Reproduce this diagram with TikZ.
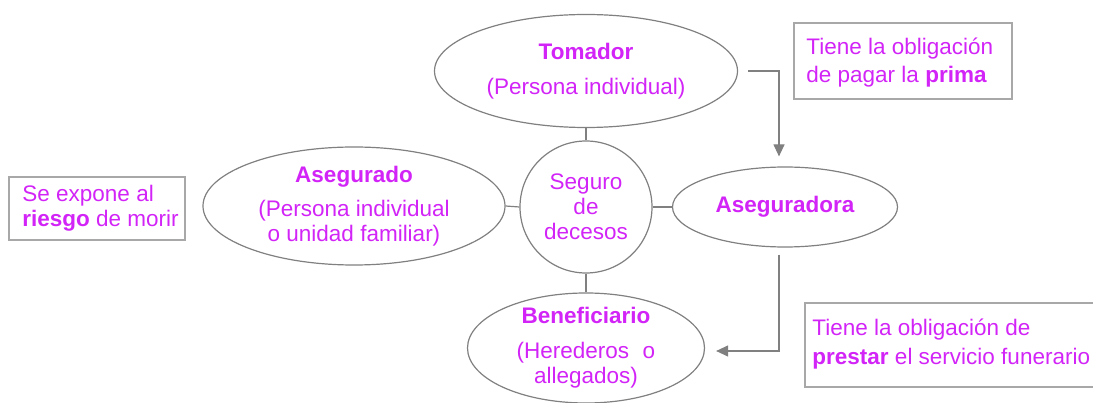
\documentclass[tikz,border=0pt]{standalone}
\usepackage{fontspec}
\setmainfont{Liberation Sans}
\usetikzlibrary{shapes.geometric,arrows.meta}
\definecolor{mag}{HTML}{D224F7}
\definecolor{lin}{HTML}{808080}
\definecolor{boxc}{HTML}{A8A8A8}
\begin{document}
\begin{tikzpicture}[x=1pt,y=-1pt,
  every node/.style={font=\fontsize{22.5pt}{25pt}\selectfont, text=mag},
  oval/.style={ellipse, draw=lin, line width=1.2pt, inner sep=0pt, align=center, fill=white},
  hub/.style={circle, draw=lin, line width=1.2pt, inner sep=0pt, minimum size=132pt, align=center},
  conn/.style={draw=lin, line width=1.2pt},
  arr/.style={draw=lin, line width=1.2pt, -{Triangle[length=12pt,width=11pt]}},
  infobox/.style={rectangle, draw=boxc, line width=1.5pt, inner sep=0pt},
  boxtext/.style={anchor=west, align=left, inner sep=0pt}
]
\useasboundingbox (0,0) rectangle (1093,403);

% central nodes
\node[hub] (seg) at (586,207) {Seguro\\de\\decesos};
\node[oval, minimum width=303pt, minimum height=113pt] (tom) at (586,71)
  {{\bfseries Tomador}\\[10pt](Persona individual)};
\node[oval, minimum width=302pt, minimum height=118pt] (aseg) at (354,206)
  {{\bfseries Asegurado}\\[9pt](Persona individual\\o unidad familiar)};
\node[oval, minimum width=225pt, minimum height=80pt] (asegra) at (785,207)
  {\bfseries Aseguradora};
\node[oval, minimum width=237pt, minimum height=110pt, inner ysep=-5pt] (ben) at (586,348)
  {{\bfseries Beneficiario}\\[10pt](Herederos\hspace{0.6em}o\\allegados)};

% connectors
\draw[conn] (tom.south) -- (seg.north);
\draw[conn] (aseg.east) -- (seg.west);
\draw[conn] (seg.east) -- (asegra.west);
\draw[conn] (seg.south) -- (ben.north);

% arrows
\draw[arr] ([xshift=10pt]tom.east) -| ([shift={(-6pt,10pt)}]asegra.north);
\draw[arr] ([shift={(-6pt,-7pt)}]asegra.south) |- ([shift={(11pt,-3pt)}]ben.east);

% info boxes
\node[infobox, minimum width=176pt, minimum height=63pt] (boxL) at (97,208.5) {};
\node[boxtext] (txtL) at ([xshift=14pt]boxL.west)
  {Se expone al\\{\bfseries riesgo} de morir};

\node[infobox, minimum width=218pt, minimum height=76pt] (boxT) at (903,61) {};
\node[boxtext, font=\fontsize{22.5pt}{28pt}\selectfont] (txtT) at ([shift={(13pt,-2pt)}]boxT.west)
  {Tiene la obligación\\de pagar la {\bfseries prima}};

\node[infobox, minimum width=292pt, minimum height=84pt] (boxB) at (951,345) {};
\node[boxtext, font=\fontsize{22.5pt}{29pt}\selectfont] (txtB) at ([shift={(8pt,1pt)}]boxB.west)
  {Tiene la obligación de\\{\bfseries prestar} el servicio funerario};
\end{tikzpicture}
\end{document}
